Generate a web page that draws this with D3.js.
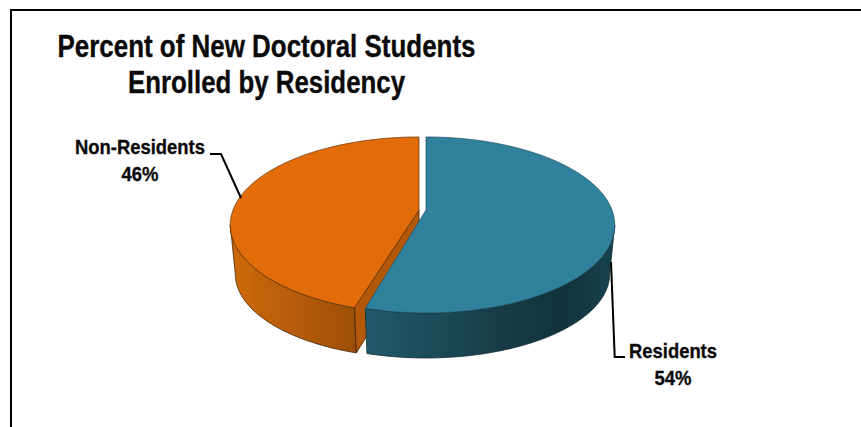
<!DOCTYPE html>
<html><head><meta charset="utf-8">
<script src="https://cdn.jsdelivr.net/npm/d3@7"></script>
<style>html,body{margin:0;padding:0;background:#fff}svg{display:block}text{font-family:'Liberation Sans',Arial,sans-serif;font-weight:700;fill:#0a0a0a;stroke:#0a0a0a;stroke-width:.35px}</style>
</head><body><div id="c"></div>
<script>
const categories = ["Residents", "Non-Residents"];
const values = [54.4, 45.6];
const titleLines = ["Percent of New Doctoral Students", "Enrolled by Residency"];
const topColors = ["#30819b", "#e16c09"];
const W = 861, H = 427;
const svg = d3.select("#c").append("svg").attr("width", W).attr("height", H);
const defs = svg.append("defs");
const gradients = [
  [["0%","#215a6b"],["55%","#163b47"],["80%","#12333d"],["100%","#174250"]],
  [["0%","#cf6a0b"],["100%","#9c4f08"]]
];
gradients.forEach((g,i)=>{
  const lg = defs.append("linearGradient").attr("id","w"+i).attr("x1","0%").attr("x2","100%").attr("y1","0%").attr("y2","0%");
  g.forEach(s=>lg.append("stop").attr("offset",s[0]).attr("stop-color",s[1]));
});
svg.append("path").attr("d",`M11,${H}V10H${W}`).attr("fill","none").attr("stroke","#000").attr("stroke-width",2);

const pie = d3.pie().sort(null).value(d=>d);
const arcs = pie(values);
const offsets = [426, 419];
const k = 0.17;
const rimGap = 0.018;
const sideAngle = Math.acos(-k);
function proj(theta, cx, level){
  const top = level===0;
  const rx = top?186:181, ry = top?88:84, cy = top?225:274, apexShift = top?15:14.3;
  const s = Math.sin(theta), c = -Math.cos(theta), w = 1-k*c;
  return [cx + rx*s/w, cy + (ry*c-apexShift)/w];
}
function apex(cx, level){ return [cx, level===0?210:253]; }
function samples(a,b){ const n=Math.max(2,Math.ceil(Math.abs(b-a)/0.01)); return d3.range(n+1).map(i=>a+(b-a)*i/n); }
const line = d3.line();

const o = arcs[1], ox = offsets[1], oStart = o.startAngle + rimGap;
const oWall = samples(oStart, 2*Math.PI-sideAngle);
svg.append("path").attr("d", line(oWall.map(t=>proj(t,ox,0)).concat(oWall.slice().reverse().map(t=>proj(t,ox,1))))+"Z")
  .attr("fill","url(#w1)").attr("stroke","#3f2003").attr("stroke-width",.8);
svg.append("path").attr("d", line([apex(ox,0),proj(oStart,ox,0),proj(oStart,ox,1),apex(ox,1)])+"Z")
  .attr("fill","#b35809").attr("stroke","#3f2003").attr("stroke-width",.8);
svg.append("path").attr("d", line(samples(oStart,o.endAngle).map(t=>proj(t,ox,0)).concat([apex(ox,0)]))+"Z")
  .attr("fill",topColors[1]).attr("stroke","#5e3208").attr("stroke-width",.7);

const b = arcs[0], bx = offsets[0];
const bWall = samples(sideAngle, b.endAngle);
svg.append("path").attr("d", line(bWall.map(t=>proj(t,bx,0)).concat(bWall.slice().reverse().map(t=>proj(t,bx,1))))+"Z")
  .attr("fill","url(#w0)").attr("stroke","#0f2b33").attr("stroke-width",.8);
svg.append("path").attr("d", line(samples(b.startAngle,b.endAngle).map(t=>proj(t,bx,0)).concat([apex(bx,0)]))+"Z")
  .attr("fill",topColors[0]).attr("stroke","#1c4f60").attr("stroke-width",.7);

const leaders = [[[611,262],[614.7,357],[625,357]],[[210,154],[221,154],[241,198]]];
leaders.forEach(l=>svg.append("path").attr("d",line(l)).attr("fill","none").attr("stroke","#000").attr("stroke-width",2));

const titleW = [418,277];
svg.selectAll(".t").data(titleLines).join("text").attr("class","t")
  .attr("x",266.5).attr("y",(d,i)=>56.5+i*36).attr("text-anchor","middle").attr("font-size",32)
  .attr("textLength",(d,i)=>titleW[i]).attr("lengthAdjust","spacingAndGlyphs").text(d=>d);

const fmt = d3.format(".0f");
const labelPos = [[673,358],[140,153.5]];
const labelW = [88,130];
categories.forEach((c,i)=>{
  svg.append("text").attr("x",labelPos[i][0]).attr("y",labelPos[i][1]).attr("text-anchor","middle").attr("font-size",21)
    .attr("textLength",labelW[i]).attr("lengthAdjust","spacingAndGlyphs").text(c);
  svg.append("text").attr("x",labelPos[i][0]).attr("y",labelPos[i][1]+27).attr("text-anchor","middle").attr("font-size",21)
    .attr("textLength",37).attr("lengthAdjust","spacingAndGlyphs").text(fmt(values[i])+"%");
});
</script></body></html>
